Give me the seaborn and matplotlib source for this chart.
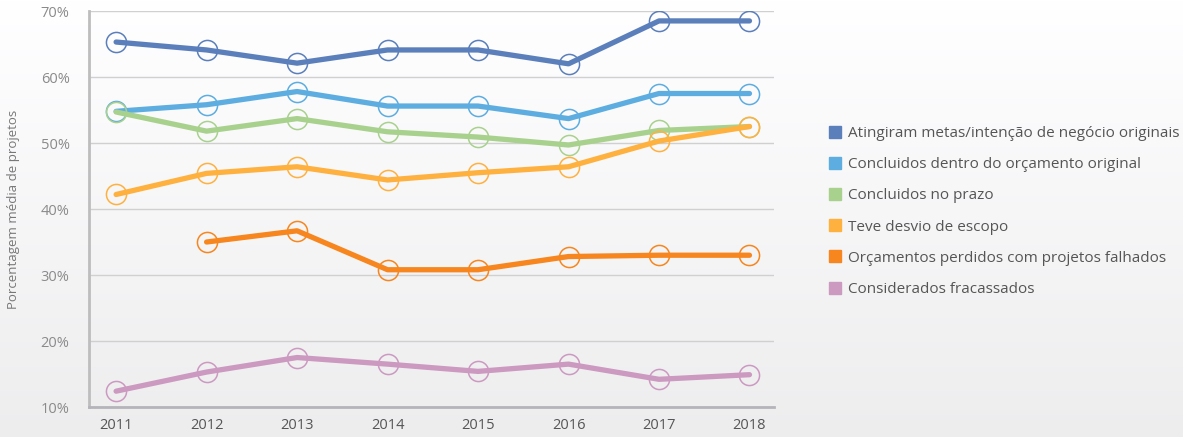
import numpy as np
import pandas as pd
import matplotlib.pyplot as plt
from matplotlib.lines import Line2D
import seaborn as sns

years = [2011, 2012, 2013, 2014, 2015, 2016, 2017, 2018]

metas = [65.3, 64.1, 62.1, 64.1, 64.1, 62.0, 68.5, 68.5]
orcamento = [54.8, 55.8, 57.8, 55.6, 55.6, 53.7, 57.5, 57.5]
prazo = [54.7, 51.8, 53.7, 51.7, 50.9, 49.7, 51.9, 52.5]
escopo = [42.2, 45.4, 46.4, 44.4, 45.5, 46.4, 50.3, 52.5]
perdidos = [np.nan, 35.0, 36.7, 30.8, 30.8, 32.8, 33.0, 33.0]
fracassados = [12.4, 15.3, 17.5, 16.5, 15.4, 16.5, 14.2, 14.9]

labels = [
    "Atingiram metas/intenção de negócio originais",
    "Concluidos dentro do orçamento original",
    "Concluidos no prazo",
    "Teve desvio de escopo",
    "Orçamentos perdidos com projetos falhados",
    "Considerados fracassados",
]
colors = ["#5b7fbb", "#5dade0", "#a9d18e", "#ffb140", "#f7861f", "#cc99c0"]
series = [metas, orcamento, prazo, escopo, perdidos, fracassados]

sns.set_style("white")
plt.rcParams["font.family"] = ["Open Sans", "DejaVu Sans"]

fig = plt.figure(figsize=(11.83, 4.37), dpi=100)

# soft vertical background gradient
bg = fig.add_axes([0, 0, 1, 1], zorder=-10)
grad = np.linspace(1.0, 0.93, 256).reshape(-1, 1)
bg.imshow(np.dstack([grad, grad, grad * 1.005]).clip(0, 1), aspect="auto",
          extent=[0, 1, 0, 1])
bg.axis("off")

ax = fig.add_axes([0.0752, 0.0686, 0.579, 0.9062])
ax.patch.set_alpha(0)

for vals, lab, c in zip(series, labels, colors):
    df = pd.DataFrame({"ano": years, "valor": vals}).dropna()
    sns.lineplot(data=df, x="ano", y="valor", ax=ax, color=c, lw=3.8,
                 marker="o", markersize=14.5, markerfacecolor="none",
                 markeredgecolor=c, markeredgewidth=1.1, label=lab)

ax.set_xlim(2010.70, 2018.27)
ax.set_ylim(10, 70)
ax.set_xticks(years)
ax.set_xticklabels([str(y) for y in years])
ax.set_yticks(range(10, 71, 10))
ax.set_yticklabels([f"{v}%" for v in range(10, 71, 10)])
ax.tick_params(axis="y", length=0, pad=14, labelsize=10.5, labelcolor="#8a8a8a")
ax.tick_params(axis="x", length=0, pad=8, labelsize=10.5, labelcolor="#555555")
ax.yaxis.grid(True, color="#d0d0d0", lw=1)
ax.set_axisbelow(True)
for s in ["top", "right"]:
    ax.spines[s].set_visible(False)
ax.spines["left"].set_color("#bdbdbd")
ax.spines["left"].set_linewidth(2)
ax.spines["bottom"].set_color("#b4b4ba")
ax.spines["bottom"].set_linewidth(2)
ax.set_xlabel("")
ax.set_ylabel("Porcentagem média de projetos", fontsize=9.5, color="#777777")
ax.yaxis.set_label_coords(-0.101, 0.5)

ax.get_legend().remove()
handles = [Line2D([], [], ls="none", marker="s", markersize=8, color=c)
           for c in colors]
fig.legend(handles, labels, loc="center left", bbox_to_anchor=(0.689, 0.516),
           frameon=False, fontsize=11, labelcolor="#555555", handlelength=0.8,
           handletextpad=0.45, labelspacing=1.06)

fig.savefig("out.png", dpi=100)
